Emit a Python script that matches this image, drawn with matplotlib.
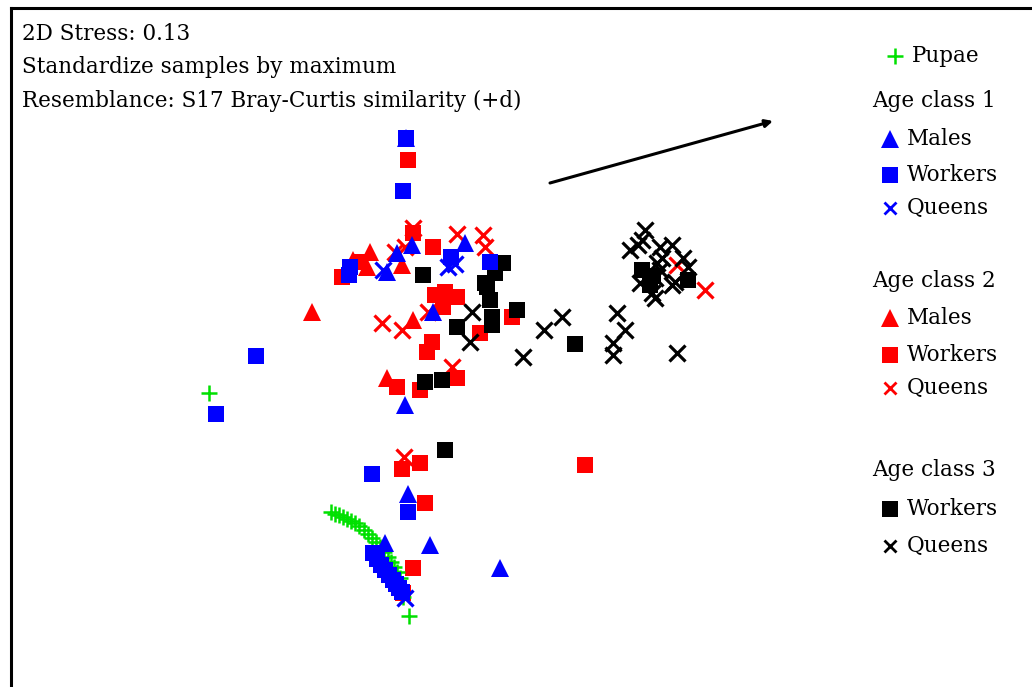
import matplotlib
matplotlib.use("Agg")
import matplotlib.pyplot as plt

plt.rcParams["font.family"] = ["DejaVu Serif"]

# nMDS ordination coordinates (plot units, y grows downward)
pupae_x = [209, 409, 403, 331, 335, 339, 343, 347, 351, 355, 359, 364, 368, 372, 376, 380, 384, 388, 391, 394, 397, 400]
pupae_y = [393, 616, 597, 512, 514, 515, 517, 519, 521, 523, 526, 530, 534, 538, 542, 547, 552, 557, 562, 567, 572, 578]

a1_males_x = [406, 412, 397, 387, 465, 433, 405, 408, 385, 430, 500]
a1_males_y = [138, 245, 253, 272, 243, 312, 405, 494, 543, 545, 568]
a1_workers_x = [406, 403, 350, 349, 451, 490, 256, 216, 372, 408, 373, 377, 381, 385, 389, 393, 396, 399, 402]
a1_workers_y = [138, 191, 267, 275, 257, 262, 356, 414, 474, 512, 553, 559, 565, 570, 575, 580, 584, 588, 592]
a1_queens_x = [383, 448, 455, 405]
a1_queens_y = [270, 267, 264, 598]

a2_males_x = [312, 353, 370, 367, 402, 413, 387]
a2_males_y = [312, 260, 252, 267, 265, 320, 378]
a2_workers_x = [408, 413, 433, 342, 360, 435, 445, 457, 443, 512, 480, 432, 427, 457, 397, 420,
                420, 402, 425, 585, 413, 403]
a2_workers_y = [160, 233, 247, 277, 262, 295, 292, 297, 307, 317, 333, 342, 352, 378, 387, 390,
                463, 469, 503, 465, 568, 593]
a2_queens_x = [413, 457, 483, 485, 395, 405, 382, 402, 428, 452, 404, 677, 705]
a2_queens_y = [228, 234, 235, 247, 252, 247, 323, 330, 312, 367, 457, 265, 290]

a3_workers_x = [423, 503, 495, 487, 485, 490, 492, 492, 517, 457, 425, 442, 575, 445, 642, 650, 653, 688]
a3_workers_y = [275, 263, 273, 287, 283, 300, 317, 325, 310, 327, 382, 380, 344, 450, 270, 285, 276, 280]
a3_queens_x = [472, 470, 523, 544, 562, 617, 625, 613, 613, 677, 645, 630, 638, 642, 660, 672, 662,
               657, 660, 683, 688, 640, 652, 655, 672, 675, 655]
a3_queens_y = [312, 342, 357, 330, 317, 313, 330, 343, 355, 353, 230, 250, 245, 240, 247, 245, 258,
               263, 270, 258, 267, 283, 293, 298, 285, 282, 278]

# vector overlay (start -> end)
vec_start = (550, 183)
vec_end = (773, 121)

header_lines = ["2D Stress: 0.13",
                "Standardize samples by maximum",
                "Resemblance: S17 Bray-Curtis similarity (+d)"]

BLUE, RED, BLACK, GREEN = "#0000ff", "#ff0000", "#000000", "#00e000"

fig = plt.figure(figsize=(10.32, 6.87), dpi=100)
ax = fig.add_axes([11 / 1032, 0.0, 1 - 11 / 1032, 1 - 8 / 687])
ax.set_xlim(11, 1032)
ax.set_ylim(687, 8)
for side in ("right", "bottom"):
    ax.spines[side].set_visible(False)
for side in ("left", "top"):
    ax.spines[side].set_linewidth(2.2)
ax.set_xticks([])
ax.set_yticks([])

sq = dict(marker="s", ms=12, mew=0, ls="none")
tri = dict(marker="^", ms=13.5, mew=0, ls="none")
crs = dict(marker="x", ms=11, mew=2.3, ls="none")

ax.plot(a2_workers_x, a2_workers_y, color=RED, **sq)
ax.plot(a2_males_x, a2_males_y, color=RED, **tri)
ax.plot(a2_queens_x, a2_queens_y, color=RED, **crs)
ax.plot(a3_workers_x, a3_workers_y, color=BLACK, **sq)
ax.plot(a3_queens_x, a3_queens_y, color=BLACK, **crs)
ax.plot(pupae_x, pupae_y, color=GREEN, marker="+", ms=12, mew=1.8, ls="none")
ax.plot(a1_workers_x, a1_workers_y, color=BLUE, **sq)
ax.plot(a1_males_x, a1_males_y, color=BLUE, **tri)
ax.plot(a1_queens_x, a1_queens_y, color=BLUE, **crs)

ax.annotate("", xy=vec_end, xytext=vec_start,
            arrowprops=dict(arrowstyle="-|>", color="black", lw=2.2,
                            mutation_scale=11, shrinkA=0, shrinkB=0))

fs = 15.5
for i, line in enumerate(header_lines):
    ax.text(22, 34 + i * 33.5, line, fontsize=fs, va="center", ha="left")

# legend built by hand: marker column + label column
legend_rows = [
    ("+", GREEN, "Pupae", 56),
    (None, None, "Age class 1", 101),
    ("^", BLUE, "Males", 139),
    ("s", BLUE, "Workers", 175),
    ("x", BLUE, "Queens", 208),
    (None, None, "Age class 2", 281),
    ("^", RED, "Males", 318),
    ("s", RED, "Workers", 355),
    ("x", RED, "Queens", 388),
    (None, None, "Age class 3", 470),
    ("s", BLACK, "Workers", 509),
    ("x", BLACK, "Queens", 546),
]
for mk, col, label, y in legend_rows:
    if mk is None:
        ax.text(872, y, label, fontsize=fs, va="center", ha="left")
        continue
    mx = 895 if mk == "+" else 890
    style = {"+": dict(ms=12, mew=1.8), "^": dict(ms=13, mew=0),
             "s": dict(ms=11.5, mew=0), "x": dict(ms=9, mew=2)}[mk]
    ax.plot([mx], [y], marker=mk, color=col, ls="none", **style)
    ax.text(mx + 17, y, label, fontsize=fs, va="center", ha="left")

fig.savefig("out.png", dpi=100)
